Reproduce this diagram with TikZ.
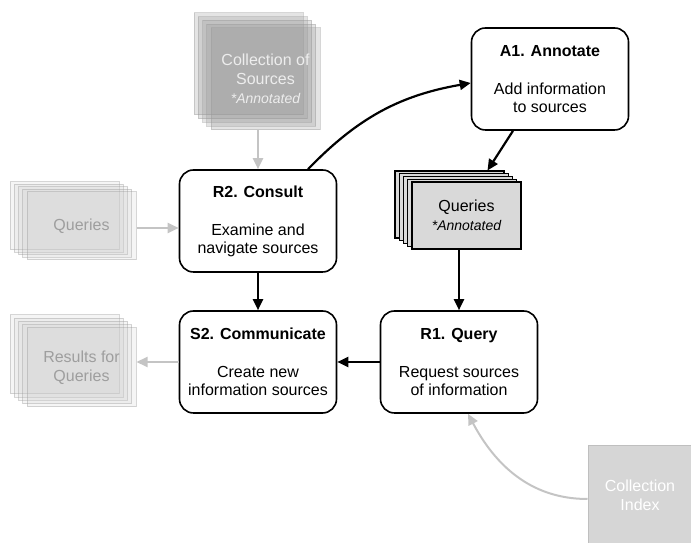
\documentclass[tikz,border=0pt]{standalone}
\usepackage{fontspec}
\setmainfont{Liberation Sans}
\usetikzlibrary{arrows.meta,shadows}
\definecolor{fadegrey}{HTML}{C4C4C4}
\definecolor{indexgrey}{HTML}{D6D6D6}
\begin{document}
\begin{tikzpicture}[x=1pt,y=1pt]
    \tikzstyle{task} = [rectangle, rounded corners=14pt, minimum width=157pt, minimum height=102pt, text centered, align=center, draw=black, line width=1.6pt, font=\fontsize{16}{18}\selectfont, execute at begin node={\rule{0pt}{17pt}}]
    \tikzstyle{layers} = [copy shadow={shadow xshift=-17pt, shadow yshift=4*#1}, copy shadow={shadow xshift=-12.75pt, shadow yshift=3*#1},
        copy shadow={shadow xshift=-8.5pt, shadow yshift=2*#1}, copy shadow={shadow xshift=-4.25pt, shadow yshift=#1}]
    \tikzstyle{pile} = [rectangle, minimum width=109pt, minimum height=67pt, align=center, draw=black, line width=1.1pt, fill=black!15, font=\fontsize{16}{19}\selectfont, layers=2.75pt]
    \tikzstyle{fadedpile} = [rectangle, minimum width=109pt, align=center, draw=black!40, draw opacity=0.4, line width=1pt, fill=black!20, fill opacity=0.2, text opacity=1, text=black!38, font=\fontsize{16}{19}\selectfont]
    \tikzstyle{arrow} = [line width=2.2pt, -{Triangle[length=11pt,width=10pt]}]
    \tikzstyle{greyarrow} = [arrow, draw=fadegrey, line width=2pt]

    \useasboundingbox (0,0) rectangle (691,543);

    \node (a1) [task] at (550,464) {\textbf{A1. Annotate}\\[20pt]Add information\\to sources};
    \node (r2) [task] at (258,322) {\textbf{R2. Consult}\\[20pt]Examine and\\navigate sources};
    \node (s2) [task] at (258,181) {\textbf{S2. Communicate}\\[20pt]Create new\\information sources};
    \node (r1) [task] at (459,181) {\textbf{R1. Query}\\[20pt]Request sources\\of information};

    \node (qann) [pile] at (466.5,327.5) {Queries\\{\fontsize{14}{16}\selectfont\itshape *Annotated}};

    \node (colsrc) [fadedpile, layers=3.75pt, minimum height=102pt, fill=black!42, fill opacity=0.25, text=black!7] at (265.5,464) {Collection of\\Sources\\{\fontsize{14}{16}\selectfont\itshape *Annotated}};
    \node (qfade) [fadedpile, layers=2.5pt, minimum height=68pt] at (81.5,317) {Queries};
    \node (results) [fadedpile, layers=3.25pt, minimum height=79pt] at (81.5,175.5) {Results for\\Queries};
    \node (cidx) [rectangle, minimum width=104pt, minimum height=99pt, align=center, draw=black!25, line width=1pt, fill=indexgrey, text=white, font=\fontsize{16}{19}\selectfont] at (640,47.5) {Collection\\Index};

    \draw[arrow] ([xshift=50pt]r2.north) to[bend left=18] ([yshift=-4pt]a1.west);
    \draw[arrow] ([xshift=-37pt]a1.south) -- ([xshift=21pt,yshift=11pt]qann.north);
    \draw[arrow] (qann.south -| r1.north) -- (r1.north);
    \draw[arrow] (r2) -- (s2);
    \draw[arrow] (r1) -- (s2);
    \draw[greyarrow] (colsrc.south -| r2.north) -- (r2.north);
    \draw[greyarrow] ([yshift=-2pt]qfade.east) -- ([yshift=-2pt]qfade.east -| r2.west);
    \draw[greyarrow] (s2.west) -- (s2.west -| results.east);
    \draw[greyarrow] ([yshift=-3.5pt]cidx.west) to[out=180, in=-62] ([xshift=9pt]r1.south);
\end{tikzpicture}
\end{document}
